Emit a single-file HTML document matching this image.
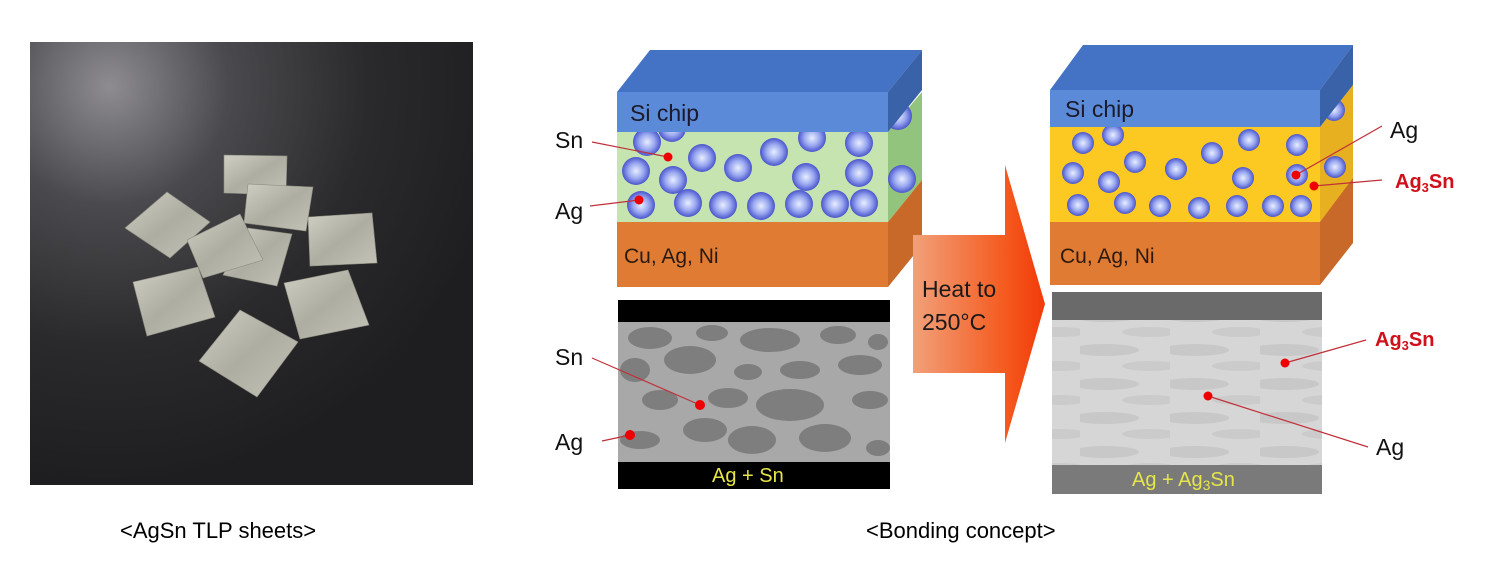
<!DOCTYPE html>
<html><head><meta charset="utf-8"><style>
html,body{margin:0;padding:0;background:#fff;width:1500px;height:567px;overflow:hidden}
svg{display:block}
text{font-family:"Liberation Sans",sans-serif}
</style></head><body>
<svg width="1500" height="567" viewBox="0 0 1500 567" xmlns="http://www.w3.org/2000/svg">
<defs>
<radialGradient id="bg" cx="0.18" cy="0.1" r="0.9">
<stop offset="0" stop-color="#8e8c90"/><stop offset="0.3" stop-color="#4a4a4e"/><stop offset="0.65" stop-color="#2a2a2c"/><stop offset="1" stop-color="#1e1e20"/>
</radialGradient>
<linearGradient id="sq" x1="0" y1="0" x2="1" y2="1">
<stop offset="0" stop-color="#d0cfc3"/><stop offset="0.5" stop-color="#aeada1"/><stop offset="1" stop-color="#c4c3b7"/>
</linearGradient>
<radialGradient id="ball" cx="0.5" cy="0.5" r="0.5">
<stop offset="0" stop-color="#e8eeff"/><stop offset="0.55" stop-color="#9aa8f0"/><stop offset="1" stop-color="#4a55cc"/>
</radialGradient>
<linearGradient id="arr" x1="0" y1="0" x2="1" y2="0">
<stop offset="0" stop-color="#f2a07a"/><stop offset="0.7" stop-color="#f45a1e"/><stop offset="1" stop-color="#f23a0a"/>
</linearGradient>
<pattern id="semR" width="90" height="34" patternUnits="userSpaceOnUse">
<rect width="90" height="34" fill="#d6d6d6"/>
<ellipse cx="25" cy="10" rx="34" ry="6" fill="#c8c8c8"/>
<ellipse cx="70" cy="26" rx="28" ry="5" fill="#cbcbcb"/>
</pattern>
</defs>

<!-- photo -->
<rect x="30" y="42" width="443" height="443" fill="url(#bg)"/>
<g fill="url(#sq)" stroke="#8d8c80" stroke-width="0.6">
<polygon points="224,155 287,156 286,195 224,193"/>
<polygon points="248,228 292,234 277,286 223,275"/>
<polygon points="248,184 313,187 306,231 244,223"/>
<polygon points="125,228 167,192 210,222 170,258"/>
<polygon points="187,240 240,214 263,260 203,278"/>
<polygon points="308,217 372,213 377,263 310,266"/>
<polygon points="133,282 198,267 215,317 147,336"/>
<polygon points="284,283 348,270 369,325 300,339"/>
<polygon points="240,310 298,342 257,397 199,361"/>
</g>

<!-- left stack -->
<polygon points="888,132 922,92 922,180 888,222" fill="#93c47d"/>
<rect x="617" y="132" width="271" height="90" fill="#c5e4b0"/>
<g fill="url(#ball)">
<circle cx="672" cy="128" r="14"/><circle cx="898" cy="116" r="14"/>
<circle cx="647" cy="142" r="14"/><circle cx="702" cy="158" r="14"/><circle cx="738" cy="168" r="14"/>
<circle cx="774" cy="152" r="14"/><circle cx="812" cy="138" r="14"/><circle cx="859" cy="143" r="14"/>
<circle cx="636" cy="171" r="14"/><circle cx="673" cy="180" r="14"/><circle cx="806" cy="177" r="14"/>
<circle cx="859" cy="173" r="14"/><circle cx="902" cy="179" r="14"/>
<circle cx="641" cy="205" r="14"/><circle cx="688" cy="203" r="14"/><circle cx="723" cy="205" r="14"/>
<circle cx="761" cy="206" r="14"/><circle cx="799" cy="204" r="14"/><circle cx="835" cy="204" r="14"/><circle cx="864" cy="203" r="14"/>
</g>
<polygon points="617,92 650,50 922,50 888,92" fill="#4472c4"/>
<polygon points="888,92 922,50 922,90 888,132" fill="#3a62a8"/>
<rect x="617" y="92" width="271" height="40" fill="#5b8bd8"/>
<polygon points="888,222 922,180 922,245 888,287" fill="#c8692a"/>
<rect x="617" y="222" width="271" height="65" fill="#e07b33"/>
<text x="630" y="121" font-size="23" fill="#1a1a2a">Si chip</text>
<text x="624" y="263" font-size="21" fill="#2a1a10">Cu, Ag, Ni</text>
<text x="555" y="148" font-size="23" fill="#111">Sn</text>
<text x="555" y="219" font-size="23" fill="#111">Ag</text>
<g stroke="#c0303a" stroke-width="1.2"><line x1="592" y1="142" x2="668" y2="157"/><line x1="590" y1="206" x2="639" y2="200"/></g>
<g fill="#e00"><circle cx="668" cy="157" r="4.5"/><circle cx="639" cy="200" r="4.5"/></g>

<!-- left SEM -->
<rect x="618" y="300" width="272" height="189" fill="#000"/>
<rect x="618" y="322" width="272" height="140" fill="#a8a8a8"/>
<g fill="#7e7e7e">
<ellipse cx="650" cy="338" rx="22" ry="11"/><ellipse cx="712" cy="333" rx="16" ry="8"/><ellipse cx="770" cy="340" rx="30" ry="12"/>
<ellipse cx="838" cy="335" rx="18" ry="9"/><ellipse cx="878" cy="342" rx="10" ry="8"/>
<ellipse cx="635" cy="370" rx="15" ry="12"/><ellipse cx="690" cy="360" rx="26" ry="14"/><ellipse cx="748" cy="372" rx="14" ry="8"/>
<ellipse cx="800" cy="370" rx="20" ry="9"/><ellipse cx="860" cy="365" rx="22" ry="10"/>
<ellipse cx="660" cy="400" rx="18" ry="10"/><ellipse cx="728" cy="398" rx="20" ry="10"/><ellipse cx="790" cy="405" rx="34" ry="16"/>
<ellipse cx="870" cy="400" rx="18" ry="9"/>
<ellipse cx="640" cy="440" rx="20" ry="9"/><ellipse cx="705" cy="430" rx="22" ry="12"/><ellipse cx="752" cy="440" rx="24" ry="14"/>
<ellipse cx="825" cy="438" rx="26" ry="14"/><ellipse cx="878" cy="448" rx="12" ry="8"/>
</g>
<text x="712" y="482" font-size="20" fill="#e6e64a">Ag + Sn</text>
<text x="555" y="365" font-size="23" fill="#111">Sn</text>
<text x="555" y="450" font-size="23" fill="#111">Ag</text>
<g stroke="#c0303a" stroke-width="1.2"><line x1="592" y1="358" x2="700" y2="405"/><line x1="602" y1="441" x2="630" y2="435"/></g>
<g fill="#e00"><circle cx="700" cy="405" r="5"/><circle cx="630" cy="435" r="5"/></g>

<!-- arrow -->
<polygon points="913,235 1005,235 1005,165 1045,304 1005,443 1005,373 913,373" fill="url(#arr)"/>
<text x="922" y="297" font-size="23" fill="#1a1a1a">Heat to</text>
<text x="922" y="330" font-size="23" fill="#1a1a1a">250°C</text>

<!-- right stack -->
<polygon points="1320,127 1353,85 1353,180 1320,222" fill="#e6b020"/>
<rect x="1050" y="127" width="270" height="95" fill="#fcc922"/>
<g fill="url(#ball)">
<circle cx="1334" cy="110" r="11"/>
<circle cx="1083" cy="143" r="11"/><circle cx="1113" cy="135" r="11"/><circle cx="1135" cy="162" r="11"/>
<circle cx="1073" cy="173" r="11"/><circle cx="1109" cy="182" r="11"/><circle cx="1176" cy="169" r="11"/>
<circle cx="1212" cy="153" r="11"/><circle cx="1249" cy="140" r="11"/><circle cx="1297" cy="145" r="11"/>
<circle cx="1243" cy="178" r="11"/><circle cx="1297" cy="175" r="11"/><circle cx="1335" cy="167" r="11"/>
<circle cx="1078" cy="205" r="11"/><circle cx="1125" cy="203" r="11"/><circle cx="1160" cy="206" r="11"/>
<circle cx="1199" cy="208" r="11"/><circle cx="1237" cy="206" r="11"/><circle cx="1273" cy="206" r="11"/><circle cx="1301" cy="206" r="11"/>
</g>
<polygon points="1050,90 1083,45 1353,45 1320,90" fill="#4472c4"/>
<polygon points="1320,90 1353,45 1353,85 1320,127" fill="#3a62a8"/>
<rect x="1050" y="90" width="270" height="37" fill="#5b8bd8"/>
<polygon points="1320,222 1353,178 1353,243 1320,285" fill="#c8692a"/>
<rect x="1050" y="222" width="270" height="63" fill="#e07b33"/>
<text x="1065" y="117" font-size="23" fill="#1a1a2a">Si chip</text>
<text x="1060" y="263" font-size="21" fill="#2a1a10">Cu, Ag, Ni</text>
<text x="1390" y="138" font-size="23" fill="#111">Ag</text>
<text x="1395" y="188" font-size="20" font-weight="bold" fill="#d0101a">Ag<tspan font-size="13" dy="4">3</tspan><tspan dy="-4">Sn</tspan></text>
<g stroke="#c0303a" stroke-width="1.2"><line x1="1296" y1="175" x2="1382" y2="126"/><line x1="1314" y1="186" x2="1382" y2="180"/></g>
<g fill="#e00"><circle cx="1296" cy="175" r="4.5"/><circle cx="1314" cy="186" r="4.5"/></g>

<!-- right SEM -->
<rect x="1052" y="292" width="270" height="202" fill="#7a7a7a"/>
<rect x="1052" y="292" width="270" height="28" fill="#6a6a6a"/>
<rect x="1052" y="320" width="270" height="145" fill="url(#semR)"/>
<text x="1132" y="486" font-size="20" fill="#e6e64a">Ag + Ag<tspan font-size="14" dy="4">3</tspan><tspan dy="-4">Sn</tspan></text>
<text x="1375" y="346" font-size="20" font-weight="bold" fill="#d0101a">Ag<tspan font-size="13" dy="4">3</tspan><tspan dy="-4">Sn</tspan></text>
<text x="1376" y="455" font-size="23" fill="#111">Ag</text>
<g stroke="#c0303a" stroke-width="1.2"><line x1="1285" y1="363" x2="1366" y2="340"/><line x1="1208" y1="396" x2="1368" y2="447"/></g>
<g fill="#e00"><circle cx="1285" cy="363" r="4.5"/><circle cx="1208" cy="396" r="4.5"/></g>

<!-- captions -->
<text x="120" y="538" font-size="22" fill="#000">&lt;AgSn TLP sheets&gt;</text>
<text x="866" y="538" font-size="22" fill="#000">&lt;Bonding concept&gt;</text>
</svg>
</body></html>
